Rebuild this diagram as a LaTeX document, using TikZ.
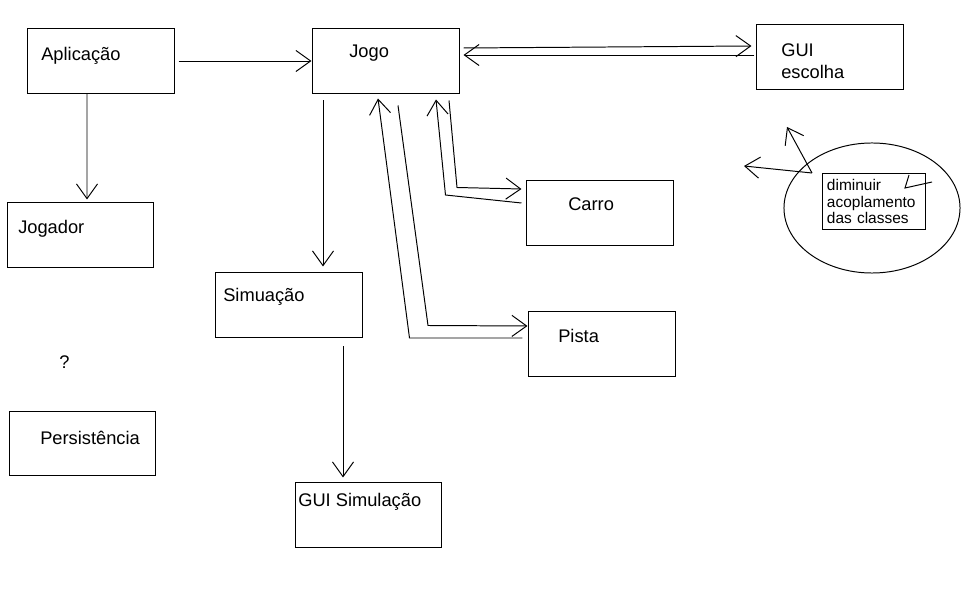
\documentclass[tikz,border=0pt]{standalone}
\usepackage{fontspec}
\setmainfont{Liberation Sans}
\usetikzlibrary{calc,arrows.meta,shapes.geometric}
\tikzset{
    % plain class box
    caixa/.style={
        draw, line width=0.7pt, inner sep=0pt,
        minimum width=3.65cm, minimum height=1.6cm
    },
    % box label, placed by its baseline
    rotulo/.style={inner sep=0pt, font=\fontsize{13}{15.6}\selectfont},
    % hand-drawn open arrow
    seta/.style={line width=0.7pt, -{Straight Barb[length=10.5pt,width=15pt]}},
    traco/.style={line width=0.7pt},
}

\begin{document}
\begin{tikzpicture}[x=0.025cm,y=-0.025cm]
  \fill[white] (0,0) rectangle (969,602);
  \path[use as bounding box] (0,0) rectangle (969,602);

  % --- boxes ---
  \node[caixa] (apl)    at (101,61)      {};
  \node[caixa] (jogo)   at (386,61)      {};
  \node[caixa] (gui)    at (830,57)      {};
  \node[caixa] (jgd)    at (80.5,235)    {};
  \node[caixa] (carro)  at (600,213)     {};
  \node[caixa] (sim)    at (289,305)     {};
  \node[caixa] (pista)  at (602,344)     {};
  \node[caixa] (pers)   at (82.5,443.5)  {};
  \node[caixa] (guisim) at (368.5,515)   {};

  % --- labels ---
  \node[rotulo,anchor=base west] (aplT)    at (41,61)   {Aplicação};
  \node[rotulo,anchor=base west] (jogoT)   at (349,58)  {Jogo};
  \node[rotulo,anchor=north west,align=left] (guiT) at (781,43.7) {GUI\\escolha};
  \node[rotulo,anchor=base west] (jgdT)    at (18,234)  {Jogador};
  \node[rotulo,anchor=base west] (carroT)  at (568,211) {Carro};
  \node[rotulo,anchor=base west] (simT)    at (223,302) {Simuação};
  \node[rotulo,anchor=base west] (pistaT)  at (558,343) {Pista};
  \node[rotulo,anchor=base west] (persT)   at (40,445)  {Persistência};
  \node[rotulo,anchor=base west] (guisimT) at (298,507) {GUI Simulação};
  \node[rotulo,anchor=base west] (duvida)  at (59,369)  {?};

  % --- note in the ellipse ---
  \node[draw,ellipse,traco,inner sep=0pt,minimum width=4.4cm,minimum height=3.25cm] (ell) at (872,208) {};
  \node[draw,traco,inner sep=0pt,minimum width=2.575cm,minimum height=1.375cm,
        text width=2.325cm,align=left,font=\fontsize{11}{12}\selectfont] (nota) at (873.5,201.5)
        {diminuir\\acoplamento\\das classes};
  \coordinate (l1) at (744,166);
  \coordinate (l2) at (787,127);
  \draw[seta] ([shift={(-60,-35)}]ell.center) -- (l1);
  \draw[seta] ([shift={(-60,-35)}]ell.center) -- (l2);
  \draw[traco] (932,182) -- (905,188) -- (909,175);

  % --- connectors ---
  \draw[seta] ([shift={(4,0)}]apl.east) -- ([shift={(-1,0)}]jogo.west);
  \draw[seta] ([shift={(-14,0)}]apl.south) -- ([shift={(6.5,-3)}]jgd.north);
  \draw[seta] ([shift={(4,-13)}]jogo.east) -- ([shift={(-5,-11)}]gui.west);
  \draw[seta] ([shift={(-2,-2)}]gui.west) -- ([shift={(4,-6)}]jogo.east);
  \draw[seta] ([shift={(-63,7)}]jogo.south) -- ([shift={(34,-6)}]sim.north);
  \draw[seta] ([shift={(-5,-10)}]carro.west) -- ++(-76,-8) -- ([shift={(50,6)}]jogo.south);
  \draw[seta] ([shift={(63,7)}]jogo.south) -- ++(8,87) -- ([shift={(-5,-24)}]carro.west);
  \draw[seta] ([shift={(-6,-6)}]pista.west) -- ++(-113,0) -- ([shift={(-8,5)}]jogo.south);
  \draw[seta] ([shift={(12,12)}]jogo.south) -- ++(30,220) -- ([shift={(-1,-18)}]pista.west);
  \draw[seta] ([shift={(54,9)}]sim.south) -- ([shift={(-25.5,-5)}]guisim.north);
\end{tikzpicture}
\end{document}
